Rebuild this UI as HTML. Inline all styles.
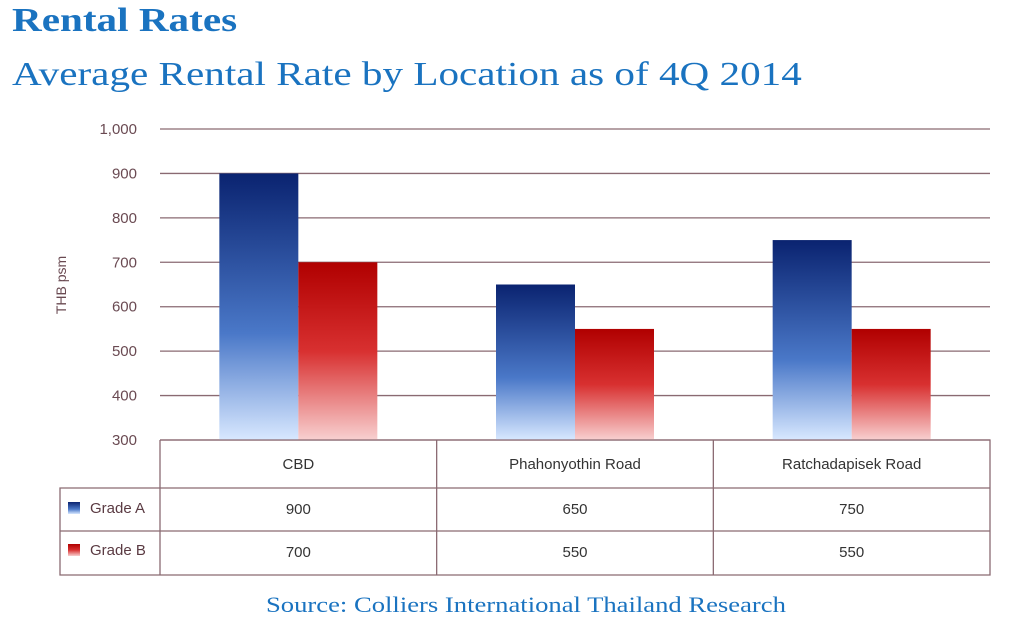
<!DOCTYPE html>
<html><head><meta charset="utf-8"><style>
body{margin:0;background:#fff;width:1024px;height:633px;overflow:hidden;font-family:"Liberation Sans",sans-serif}
.t{position:absolute;font-family:"Liberation Serif",serif;color:#1a73c0;transform-origin:0 0;transform:scaleX(1.21);white-space:nowrap}
</style></head><body>
<div class="t" style="left:12px;top:2px;font-size:34px;font-weight:bold">Rental Rates</div>
<div class="t" style="left:12px;top:56px;font-size:34px">Average Rental Rate by Location as of 4Q 2014</div>
<div class="t" style="left:266px;top:592px;font-size:22px">Source: Colliers International Thailand Research</div>
<svg id="c" width="1024" height="633" style="position:absolute;left:0;top:0">
<defs>
<linearGradient id="ga" x1="0" y1="0" x2="0" y2="1"><stop offset="0" stop-color="#0a2370"/><stop offset="0.6" stop-color="#4a78c8"/><stop offset="1" stop-color="#d8e8ff"/></linearGradient>
<linearGradient id="gb" x1="0" y1="0" x2="0" y2="1"><stop offset="0" stop-color="#b00000"/><stop offset="0.5" stop-color="#d83030"/><stop offset="1" stop-color="#f8d0d0"/></linearGradient>
</defs>
</svg>
<script>
const categories=["CBD","Phahonyothin Road","Ratchadapisek Road"];
const gradeA=[900,650,750];
const gradeB=[700,550,550];
const ticks=[300,400,500,600,700,800,900,1000];
const seriesNames=["Grade A","Grade B"];
const svg=document.getElementById('c'),NS="http://www.w3.org/2000/svg";
const x0=160,x1=990,yTop=129,yBot=440,vMin=300,vMax=1000;
const y=v=>yBot-(v-vMin)/(vMax-vMin)*(yBot-yTop);
const cw=(x1-x0)/categories.length,bw=79;
function el(t,a,txt){const e=document.createElementNS(NS,t);for(const k in a)e.setAttribute(k,a[k]);if(txt!=null)e.textContent=txt;svg.appendChild(e);return e;}
ticks.forEach(v=>{
 const l=el('line',{x1:x0,x2:x1,y1:y(v),y2:y(v),stroke:'#8a6a72','stroke-width':1.3});
 
 
 const t=el('text',{x:137,y:y(v)+5,'text-anchor':'end','font-size':15,fill:'#6a4a52'},v.toLocaleString('en-US'));
 
 
});
const yt=el('text',{transform:'translate(66,285) rotate(-90)','text-anchor':'middle','font-size':14,fill:'#6a4a52'},'THB psm');


categories.forEach((c,i)=>{
 const cx=x0+cw*(i+0.5);
 const a=el('rect',{x:cx-bw,y:y(gradeA[i]),width:bw,height:yBot-y(gradeA[i]),fill:'url(#ga)'});
 
 
 const b=el('rect',{x:cx,y:y(gradeB[i]),width:bw,height:yBot-y(gradeB[i]),fill:'url(#gb)'});
 
 
 const h=el('text',{x:cx,y:469,'text-anchor':'middle','font-size':15,fill:'#333'},c);
 
 
 [gradeA,gradeB].forEach((s,j)=>{
  const t=el('text',{x:cx,y:[514,557][j],'text-anchor':'middle','font-size':15,fill:'#333'},s[i]);
  
  
 });
});
const st={stroke:'#8a6a72','stroke-width':1.3,fill:'none'};
el('path',Object.assign({d:`M${x0} ${yBot}H${x1}V575H60V488H${x1}M60 531H${x1}M${x0} ${yBot}V575`},st));
for(let i=1;i<categories.length;i++)el('line',Object.assign({x1:x0+cw*i,x2:x0+cw*i,y1:yBot,y2:575},st));
seriesNames.forEach((n,j)=>{
 const yy=[508,550][j];
 const r=el('rect',{x:68,y:yy-6,width:12,height:12,fill:j?'url(#gb)':'url(#ga)'});
 
 
 const t=el('text',{x:90,y:yy+5,'font-size':15,fill:'#5a3a42'},n);
 
 
});
</script>
</body></html>
